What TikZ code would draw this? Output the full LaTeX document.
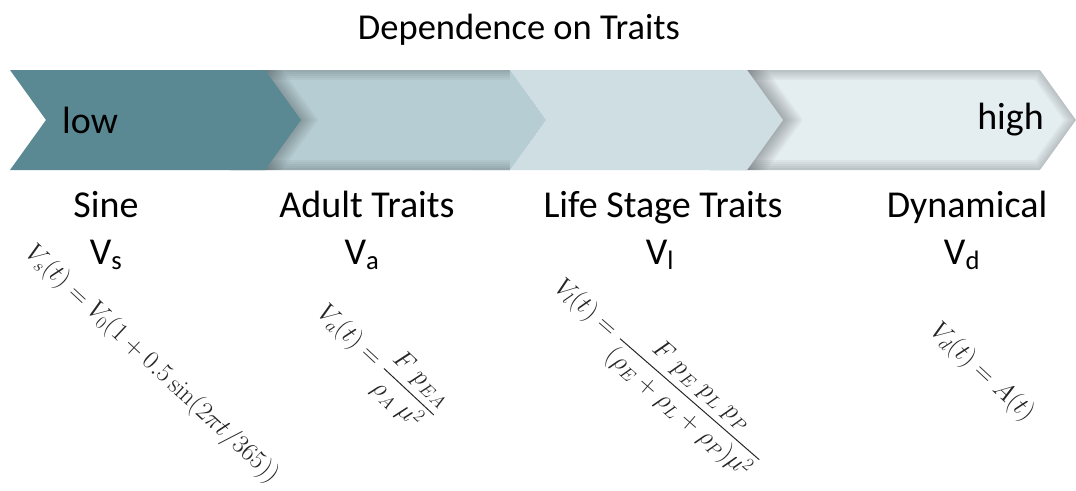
\RequirePackage{fix-cm}
\documentclass[tikz,border=0pt]{standalone}
\usepackage{amsmath}
\usepackage[no-math]{fontspec}
\setmainfont{Carlito}
\usepackage{xcolor}

\definecolor{chevA}{HTML}{5A8893}
\definecolor{chevB}{HTML}{B6CDD3}
\definecolor{chevC}{HTML}{CFDEE3}
\definecolor{chevD}{HTML}{E4EDF0}

\begin{document}
\begin{tikzpicture}[x = 1pt, y = -1pt,
		lbl/.style = {font = \fontsize{38}{42}\selectfont, inner sep = 0pt},
		eqn/.style = {font = \fontsize{26}{30}\selectfont, text = black!85, inner sep = 0pt, rotate = -43, anchor = base west},
		glow/.style = {line width = #1, black, opacity = 0.035}]
	\def\yT{70}
	\def\yM{120}
	\def\yB{170}
	\def\dep{36}
	\def\chev#1#2{(#1,\yT) -- (#2,\yT) -- (#2+\dep,\yM) -- (#2,\yB) -- (#1,\yB) -- (#1+\dep,\yM) -- cycle}

	\useasboundingbox (0,0) rectangle (1076,490);

	\node[lbl, font = \fontsize{36.5}{40}\selectfont] (title) at (519,30) {Dependence on Traits};

	% chevrons, right to left
	\begin{scope}
		\clip \chev{710}{1040};
		\fill[chevD] \chev{710}{1040};
		\foreach \w in {4,8,...,20}
		{
			\draw[glow = \w pt] \chev{710}{1040};
		}
		\foreach \w in {4,8,...,32}
		{
			\draw[glow = \w pt] \chev{470}{747};
		}
	\end{scope}

	\fill[chevC] \chev{470}{747};

	\begin{scope}
		\clip \chev{230}{510};
		\fill[chevB] \chev{230}{510};
		\foreach \w in {4,8,...,20}
		{
			\draw[glow = \w pt] (230,\yT) -- (510,\yT);
			\draw[glow = \w pt] (230,\yB) -- (510,\yB);
		}
		\foreach \w in {4,8,...,28}
		{
			\draw[glow = \w pt] \chev{10}{265};
		}
	\end{scope}

	\fill[chevA] \chev{10}{265};

	\node[lbl, anchor = west] (low) at (62,120) {low};
	\node[lbl, anchor = east] (high) at (1044,120) {high};

	% labels
	\node[lbl, anchor = base] (sine) at (106,217) {Sine};
	\node[lbl, anchor = base] (vs) at (106,264) {V\textsubscript{s}};
	\node[lbl, anchor = base] (adult) at (367,217) {Adult Traits};
	\node[lbl, anchor = base] (va) at (362,264) {V\textsubscript{a}};
	\node[lbl, anchor = base] (life) at (663,217) {Life Stage Traits};
	\node[lbl, anchor = base] (vl) at (660,264) {V\textsubscript{l}};
	\node[lbl, anchor = base] (dyn) at (967,217) {Dynamical};
	\node[lbl, anchor = base] (vd) at (962,264) {V\textsubscript{d}};

	% formulas
	\node[eqn] (eqs) at (24,254) {$V_s(t) = V_0(1 + 0.5\sin(2\pi t/365))$};
	\node[eqn] (eqa) at (316,314) {$V_a(t) = \dfrac{F\;p_{EA}}{\rho_A\;\mu^2}$};
	\node[eqn, rotate = 2] (eql) at (553,289) {$V_l(t) = \dfrac{F\;p_E\;p_L\;p_P}{(\rho_E + \rho_L + \rho_P)\mu^2}$};
	\node[eqn] (eqd) at (929,332) {$V_d(t) = A(t)$};
\end{tikzpicture}
\end{document}
